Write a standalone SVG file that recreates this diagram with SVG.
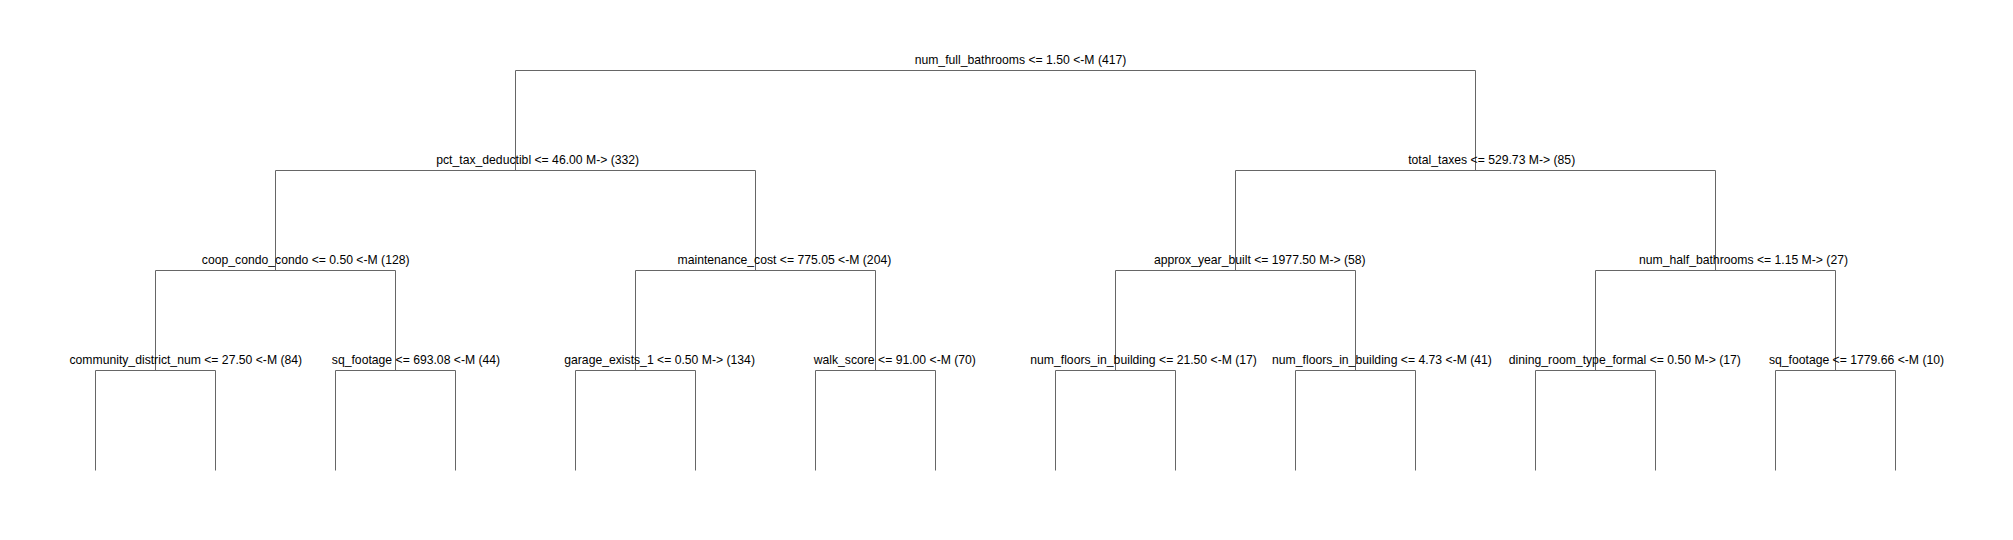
<svg xmlns="http://www.w3.org/2000/svg" width="2013" height="540" viewBox="0 0 2013 540">
<style>
.e{stroke:#666;stroke-width:1;fill:none}
.t{font-family:"Liberation Sans",Arial,sans-serif;font-size:12.2px;fill:#000;text-anchor:middle}
</style>
<rect width="2013" height="540" fill="#fff"/>
<g id="connectors">
<path class="e" d="M515.5 70.5H1475.5M515.5 70.5V170.5M1475.5 70.5V170.5"/>
<path class="e" d="M275.5 170.5H755.5M275.5 170.5V270.5M755.5 170.5V270.5"/>
<path class="e" d="M1235.5 170.5H1715.5M1235.5 170.5V270.5M1715.5 170.5V270.5"/>
<path class="e" d="M155.5 270.5H395.5M155.5 270.5V370.5M395.5 270.5V370.5"/>
<path class="e" d="M635.5 270.5H875.5M635.5 270.5V370.5M875.5 270.5V370.5"/>
<path class="e" d="M1115.5 270.5H1355.5M1115.5 270.5V370.5M1355.5 270.5V370.5"/>
<path class="e" d="M1595.5 270.5H1835.5M1595.5 270.5V370.5M1835.5 270.5V370.5"/>
<path class="e" d="M95.5 370.5H215.5M95.5 370.5V470.5M215.5 370.5V470.5"/>
<path class="e" d="M335.5 370.5H455.5M335.5 370.5V470.5M455.5 370.5V470.5"/>
<path class="e" d="M575.5 370.5H695.5M575.5 370.5V470.5M695.5 370.5V470.5"/>
<path class="e" d="M815.5 370.5H935.5M815.5 370.5V470.5M935.5 370.5V470.5"/>
<path class="e" d="M1055.5 370.5H1175.5M1055.5 370.5V470.5M1175.5 370.5V470.5"/>
<path class="e" d="M1295.5 370.5H1415.5M1295.5 370.5V470.5M1415.5 370.5V470.5"/>
<path class="e" d="M1535.5 370.5H1655.5M1535.5 370.5V470.5M1655.5 370.5V470.5"/>
<path class="e" d="M1775.5 370.5H1895.5M1775.5 370.5V470.5M1895.5 370.5V470.5"/>
</g>
<g id="n_root"><text class="t" x="1020.5" y="63.5">num_full_bathrooms &lt;= 1.50 &lt;-M (417)</text></g>
<g id="n_pct_tax"><text class="t" x="537.7" y="163.5">pct_tax_deductibl &lt;= 46.00 M-&gt; (332)</text></g>
<g id="n_total_taxes"><text class="t" x="1491.7" y="163.5">total_taxes &lt;= 529.73 M-&gt; (85)</text></g>
<g id="n_coop"><text class="t" x="305.7" y="263.5">coop_condo_condo &lt;= 0.50 &lt;-M (128)</text></g>
<g id="n_maint"><text class="t" x="784.4" y="263.5">maintenance_cost &lt;= 775.05 &lt;-M (204)</text></g>
<g id="n_year"><text class="t" x="1259.8" y="263.5">approx_year_built &lt;= 1977.50 M-&gt; (58)</text></g>
<g id="n_half"><text class="t" x="1743.5" y="263.5">num_half_bathrooms &lt;= 1.15 M-&gt; (27)</text></g>
<g id="n_comm"><text class="t" x="185.8" y="363.5">community_district_num &lt;= 27.50 &lt;-M (84)</text></g>
<g id="n_sqft1"><text class="t" x="416" y="363.5">sq_footage &lt;= 693.08 &lt;-M (44)</text></g>
<g id="n_garage"><text class="t" x="659.6" y="363.5">garage_exists_1 &lt;= 0.50 M-&gt; (134)</text></g>
<g id="n_walk"><text class="t" x="894.8" y="363.5">walk_score &lt;= 91.00 &lt;-M (70)</text></g>
<g id="n_floors1"><text class="t" x="1143.6" y="363.5">num_floors_in_building &lt;= 21.50 &lt;-M (17)</text></g>
<g id="n_floors2"><text class="t" x="1382" y="363.5">num_floors_in_building &lt;= 4.73 &lt;-M (41)</text></g>
<g id="n_dining"><text class="t" x="1624.8" y="363.5">dining_room_type_formal &lt;= 0.50 M-&gt; (17)</text></g>
<g id="n_sqft2"><text class="t" x="1856.5" y="363.5">sq_footage &lt;= 1779.66 &lt;-M (10)</text></g>
</svg>
